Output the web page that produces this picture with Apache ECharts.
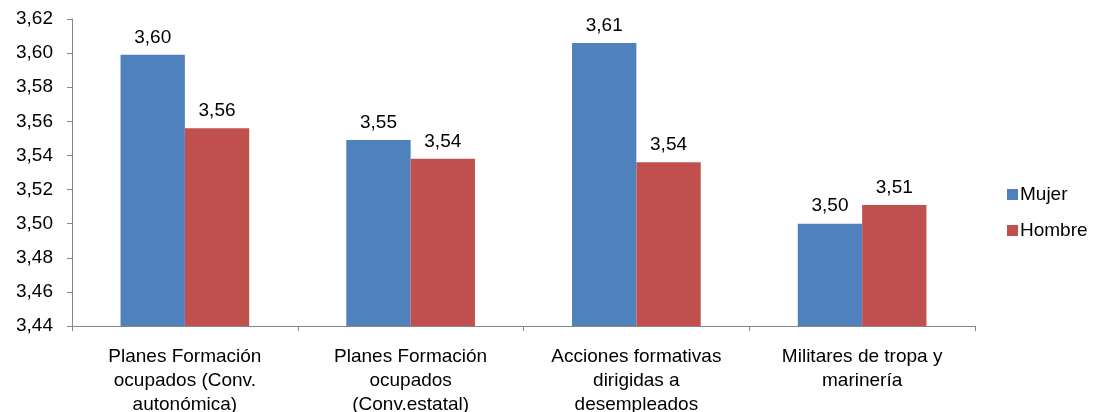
<!DOCTYPE html>
<html lang="es">
<head>
    <meta charset="UTF-8">
    <title>Mujer / Hombre</title>
    <script src="https://cdn.jsdelivr.net/npm/echarts@6/dist/echarts.min.js"></script>
</head>
<body style="margin:0;background:#fff">
<div id="chart" style="width:1103px;height:412px"></div>
<script>
    var categories = [
        'Planes Formación\nocupados (Conv.\nautonómica)',
        'Planes Formación\nocupados\n(Conv.estatal)',
        'Acciones formativas\ndirigidas a\ndesempleados',
        'Militares de tropa y\nmarinería'
    ];
    var mujer = [3.599, 3.549, 3.606, 3.500];
    var hombre = [3.556, 3.538, 3.536, 3.511];
    var seriesNames = ['Mujer', 'Hombre'];

    var fontFam = '"Liberation Sans", Arial, sans-serif';
    var fmt = function (v) { return v.toFixed(2).replace('.', ','); };

    var myChart = echarts.init(document.getElementById('chart'));
    var option = {
        animation: false,
        color: ['#4F81BD', '#C0504D'],
        textStyle: { fontFamily: fontFam },
        grid: { left: 72, right: 128, top: 19, bottom: 86, outerBoundsMode: 'none' },
        legend: {
            orient: 'vertical',
            left: 1002,
            top: 180,
            itemWidth: 11,
            itemHeight: 11,
            itemGap: 17,
            icon: 'rect',
            data: seriesNames,
            textStyle: { fontSize: 19, color: '#000', fontFamily: fontFam, padding: [0, 0, 0, -3] }
        },
        xAxis: {
            type: 'category',
            data: categories,
            axisLine: { lineStyle: { color: '#868686' } },
            axisTick: { show: true, alignWithLabel: false, length: 5, lineStyle: { color: '#868686' } },
            axisLabel: { color: '#000', fontSize: 19, lineHeight: 24, margin: 19, interval: 0 }
        },
        yAxis: {
            type: 'value',
            min: 3.44,
            max: 3.62,
            interval: 0.02,
            axisLine: { show: true, lineStyle: { color: '#868686' } },
            axisTick: { show: true, length: 5, lineStyle: { color: '#868686' } },
            splitLine: { show: false },
            axisLabel: { color: '#000', fontSize: 19, margin: 19, formatter: fmt }
        },
        series: [
            {
                name: seriesNames[0],
                type: 'bar',
                data: mujer,
                barGap: '0%',
                barCategoryGap: '43%',
                label: { show: true, position: 'top', distance: 8, color: '#000', fontSize: 19,
                    formatter: function (p) { return fmt(p.value); } }
            },
            {
                name: seriesNames[1],
                type: 'bar',
                data: hombre,
                barGap: '0%',
                barCategoryGap: '43%',
                label: { show: true, position: 'top', distance: 8, color: '#000', fontSize: 19,
                    formatter: function (p) { return fmt(p.value); } }
            }
        ]
    };
    myChart.setOption(option);
</script>
</body>
</html>
